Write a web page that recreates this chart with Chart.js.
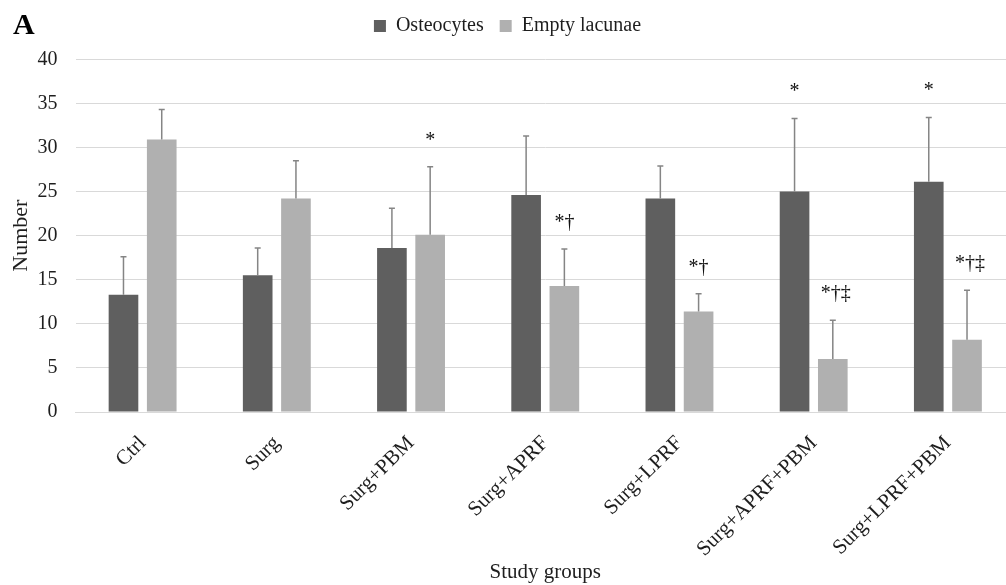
<!DOCTYPE html>
<html>
<head>
<meta charset="utf-8">
<script src="https://cdn.jsdelivr.net/npm/chart.js@4/dist/chart.umd.min.js"></script>
<style>
  html, body { margin: 0; padding: 0; background: #fff; overflow: hidden; }
  #wrap { width: 1016px; height: 585px; position: relative; }
</style>
</head>
<body>
<div id="wrap"><canvas id="chart"></canvas></div>
<script>
// Study groups and measured counts (mean and SD per group)
const categories = ['Ctrl', 'Surg', 'Surg+PBM', 'Surg+APRF', 'Surg+LPRF', 'Surg+APRF+PBM', 'Surg+LPRF+PBM'];
const osteocytes = [13.3, 15.5, 18.6, 24.6, 24.2, 25.0, 26.1];
const osteocytesSD = [4.3, 3.1, 4.5, 6.7, 3.7, 8.3, 7.3];
const emptyLacunae = [30.9, 24.2, 20.1, 14.3, 11.4, 6.0, 8.2];
const emptyLacunaeSD = [3.4, 4.3, 7.7, 4.2, 2.0, 4.4, 5.6];
// Significance marks shown above each bar
const osteocytesMarks = ['', '', '', '', '', '*', '*'];
const emptyLacunaeMarks = ['', '', '*', '*\u2020', '*\u2020', '*\u2020\u2021', '*\u2020\u2021'];
const yTicks = [0, 5, 10, 15, 20, 25, 30, 35, 40];

const SERIF = '"Liberation Serif", "Times New Roman", "DejaVu Serif", serif';
const TEXT = '#1e1e1e';
const GRID = '#d9d9d9';

// Upper error bars, significance marks and the panel letter
const errorBarPlugin = {
  id: 'errorBars',
  afterDatasetsDraw(chart) {
    const ctx = chart.ctx;
    const yScale = chart.scales.y;
    ctx.save();
    chart.data.datasets.forEach((ds, di) => {
      const meta = chart.getDatasetMeta(di);
      meta.data.forEach((bar, i) => {
        const top = yScale.getPixelForValue(ds.data[i] + ds.sd[i]);
        ctx.strokeStyle = '#858585';
        ctx.lineWidth = 1.5;
        ctx.beginPath();
        ctx.moveTo(bar.x, bar.y);
        ctx.lineTo(bar.x, top);
        ctx.moveTo(bar.x - 3, top);
        ctx.lineTo(bar.x + 3, top);
        ctx.stroke();
        const mark = ds.marks[i];
        if (mark) {
          ctx.fillStyle = '#111';
          ctx.font = '20px ' + SERIF;
          ctx.textAlign = 'center';
          ctx.textBaseline = 'alphabetic';
          ctx.fillText(mark, bar.x + (mark.length > 2 ? 3 : 0), top - 21);
        }
      });
    });
    ctx.fillStyle = '#000';
    ctx.font = 'bold 30px ' + SERIF;
    ctx.textAlign = 'left';
    ctx.textBaseline = 'alphabetic';
    ctx.fillText('A', 13, 34);
    ctx.restore();
  }
};

// Fixed legend band height so the plot starts right under it
const legendHeightPlugin = {
  id: 'legendHeight',
  afterInit(chart) {
    const legend = chart.legend;
    if (!legend) return;
    const fit = legend.fit;
    legend.fit = function () {
      fit.call(this);
      this.height = 59.3;
    };
  }
};

new Chart(document.getElementById('chart'), {
  type: 'bar',
  data: {
    labels: categories,
    datasets: [
      {
        label: 'Osteocytes',
        data: osteocytes,
        sd: osteocytesSD,
        marks: osteocytesMarks,
        backgroundColor: '#5f5f5f',
        borderWidth: 0,
        categoryPercentage: 0.57,
        barPercentage: 0.775
      },
      {
        label: 'Empty lacunae',
        data: emptyLacunae,
        sd: emptyLacunaeSD,
        marks: emptyLacunaeMarks,
        backgroundColor: '#b0b0b0',
        borderWidth: 0,
        categoryPercentage: 0.57,
        barPercentage: 0.775
      }
    ]
  },
  options: {
    responsive: true,
    maintainAspectRatio: false,
    animation: false,
    layout: { padding: { left: 0, right: 1, top: 0, bottom: 0 } },
    plugins: {
      tooltip: { enabled: false },
      legend: {
        position: 'top',
        align: 'center',
        labels: {
          boxWidth: 12,
          boxHeight: 12,
          padding: 16,
          color: TEXT,
          font: { family: SERIF, size: 20 }
        }
      }
    },
    scales: {
      x: {
        grid: { display: false, drawTicks: false },
        border: { display: true, color: GRID, width: 1 },
        ticks: {
          color: TEXT,
          font: { family: SERIF, size: 21 },
          minRotation: 45,
          maxRotation: 45,
          padding: 19,
          autoSkip: false
        },
        title: {
          display: true,
          text: 'Study groups',
          color: TEXT,
          font: { family: SERIF, size: 21 },
          padding: { top: 0, bottom: 0 }
        },
        afterFit(scale) { scale.height = 173; }
      },
      y: {
        min: 0,
        max: 40,
        afterBuildTicks(scale) { scale.ticks = yTicks.map(v => ({ value: v })); },
        grid: { color: GRID, lineWidth: 1, drawTicks: false },
        border: { display: false },
        ticks: {
          color: TEXT,
          font: { family: SERIF, size: 20 },
          padding: 18
        },
        title: {
          display: true,
          text: 'Number',
          color: TEXT,
          font: { family: SERIF, size: 22 },
          padding: { top: 8, bottom: 0 }
        },
        afterFit(scale) { scale.width = 75.5; }
      }
    }
  },
  plugins: [errorBarPlugin, legendHeightPlugin]
});
</script>
</body>
</html>
